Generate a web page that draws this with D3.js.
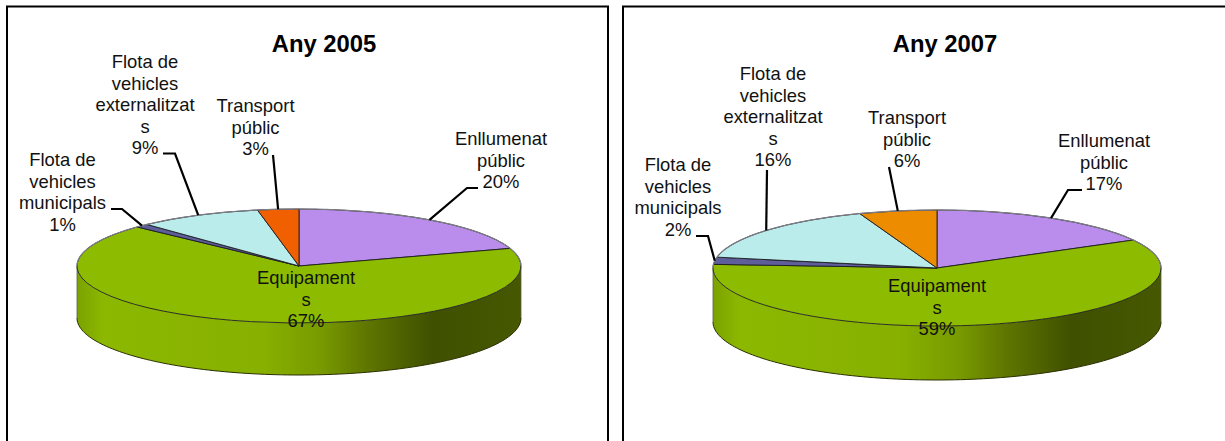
<!DOCTYPE html>
<html>
<head>
<meta charset="utf-8">
<script src="https://cdn.jsdelivr.net/npm/d3@7/dist/d3.min.js"></script>
<style>
html,body{margin:0;padding:0;background:#fff;overflow:hidden}
svg{display:block}
text{font-family:"Liberation Sans",Arial,sans-serif;fill:#111}
</style>
</head>
<body>
<svg id="c" width="1225" height="441"></svg>
<script>
// ---- data ----
const categories = ["Enllumenat públic", "Equipaments", "Flota de vehicles municipals", "Flota de vehicles externalitzats", "Transport públic"];
const labelLines = [
  ["Enllumenat", "públic"],
  ["Equipament", "s"],
  ["Flota de", "vehicles", "municipals"],
  ["Flota de", "vehicles", "externalitzat", "s"],
  ["Transport", "públic"]
];
const titles = ["Any 2005", "Any 2007"];
const values2005 = [20, 67, 1, 9, 3];
const values2007 = [17, 59, 2, 16.4, 5.6];
const colors2005 = ["#BA8CEC", "#8DBB00", "#5E5E9A", "#BBECEC", "#F06000"];
const colors2007 = ["#BA8CEC", "#8DBB00", "#5E5E9A", "#BBECEC", "#EE8C00"];

// ---- layout ----
const frames = [{x0: 7, x1: 608}, {x0: 623, x1: 1240}];
const frameTop = 6.5, frameBottom = 460;
const pies = [
  {cx: 299, cy: 266, rx: 222, ry: 57, depth: 52, titleX: 324, titleY: 52},
  {cx: 937, cy: 268, rx: 224, ry: 58, depth: 54, titleX: 945, titleY: 52}
];
// centre x and first baseline of each label, by category
const labelPos = [
  [{x: 501, y: 145}, {x: 306, y: 284}, {x: 62.5, y: 166}, {x: 145, y: 68}, {x: 255.5, y: 112}],
  [{x: 1104, y: 147}, {x: 937, y: 292}, {x: 678, y: 171}, {x: 773, y: 80}, {x: 907, y: 124}]
];
// leader knee: [start x, start y, elbow x, elbow y]; null = none
const leaderPos = [
  [[478, 188, 467, 188], null, [111, 209, 122, 209], [163, 153.5, 175, 153.5], [273, 155, 273, 155]],
  [[1082, 190, 1068, 190], null, [696, 236, 708, 236], [767, 170, 767, 170], [889, 167, 889, 167]]
];
const lineStep = 21.5, labelSize = 18.4, titleSize = 23.8;
const wallStops = [
  [0, "#7BA200"], [0.06, "#8CB800"], [0.42, "#87B000"], [0.55, "#789A00"],
  [0.65, "#5F7700"], [0.8, "#3F5000"], [1, "#465800"]
];

const svg = d3.select("#c");
const defs = svg.append("defs");

svg.append("g").selectAll("path").data(frames).join("path")
  .attr("d", f => `M${f.x0},${frameBottom}V${frameTop}H${f.x1}V${frameBottom}`)
  .attr("fill", "none").attr("stroke", "#000").attr("stroke-width", 2);

const pieGen = d3.pie().sort(null).value(d => d);
const arcGen = d3.arc().innerRadius(0).outerRadius(1);

function drawPie(values, colors, p, idx) {
  const g = svg.append("g");
  const sx = d3.scaleLinear().domain([-1, 1]).range([p.cx - p.rx, p.cx + p.rx]);
  const sy = d3.scaleLinear().domain([-1, 1]).range([p.cy - p.ry, p.cy + p.ry]);
  const px = a => sx(Math.sin(a));
  const py = a => sy(-Math.cos(a));
  const arcs = pieGen(values);

  const gid = "wall" + idx;
  defs.append("linearGradient").attr("id", gid)
    .attr("gradientUnits", "userSpaceOnUse")
    .attr("x1", p.cx - p.rx).attr("x2", p.cx + p.rx).attr("y1", 0).attr("y2", 0)
    .selectAll("stop").data(wallStops).join("stop")
    .attr("offset", d => d[0]).attr("stop-color", d => d[1]);

  // front wall: the part of each slice's rim that faces the viewer
  const wall = d3.area().x(a => px(a)).y0(a => py(a)).y1(a => py(a) + p.depth);
  arcs.forEach(s => {
    const a0 = Math.max(s.startAngle, Math.PI / 2), a1 = Math.min(s.endAngle, 3 * Math.PI / 2);
    if (a1 <= a0) return;
    const n = 120, samples = d3.range(n + 1).map(i => a0 + (a1 - a0) * i / n);
    g.append("path").attr("d", wall(samples))
      .attr("fill", `url(#${gid})`).attr("stroke", "none");
    g.append("path")
      .attr("d", d3.line().x(a => px(a)).y(a => py(a) + p.depth)(samples))
      .attr("fill", "none").attr("stroke", "#2a3000").attr("stroke-width", 1);
    g.append("path")
      .attr("d", `M${px(a0)},${py(a0)}v${p.depth}M${px(a1)},${py(a1)}v${p.depth}`)
      .attr("fill", "none").attr("stroke", "#55604a").attr("stroke-width", 0.8);
  });

  // top face
  g.selectAll("path.slice").data(arcs).join("path").attr("class", "slice")
    .attr("transform", `translate(${p.cx},${p.cy}) scale(${p.rx},${p.ry})`)
    .attr("d", arcGen)
    .attr("fill", (d, i) => colors[i])
    .attr("stroke", "#1c1c20").attr("stroke-width", 0.9)
    .style("vector-effect", "non-scaling-stroke");

  // back rim is drawn in a softer gray
  const n = 200, back = d3.range(n + 1).map(i => 3 * Math.PI / 2 + Math.PI * i / n);
  g.append("path").attr("d", d3.line().x(a => px(a)).y(a => py(a))(back))
    .attr("fill", "none").attr("stroke", "#7d7d86").attr("stroke-width", 1.2);

  // leaders
  arcs.forEach((s, i) => {
    const k = leaderPos[idx][i];
    if (!k) return;
    const mid = (s.startAngle + s.endAngle) / 2;
    g.append("path")
      .attr("d", d3.line()([[k[0], k[1]], [k[2], k[3]], [px(mid), py(mid)]]))
      .attr("fill", "none").attr("stroke", "#000").attr("stroke-width", 2.2);
  });

  // labels
  arcs.forEach((s, i) => {
    const lp = labelPos[idx][i];
    const lines = labelLines[i].concat(Math.round(values[i]) + "%");
    g.append("g").selectAll("text").data(lines).join("text")
      .attr("x", lp.x).attr("y", (d, j) => lp.y + j * lineStep)
      .attr("text-anchor", "middle").attr("font-size", labelSize).text(d => d);
  });

  g.append("text").attr("x", p.titleX).attr("y", p.titleY)
    .attr("text-anchor", "middle").attr("font-size", titleSize)
    .attr("font-weight", "bold").style("fill", "#000").text(titles[idx]);
}

drawPie(values2005, colors2005, pies[0], 0);
drawPie(values2007, colors2007, pies[1], 1);
</script>
</body>
</html>
